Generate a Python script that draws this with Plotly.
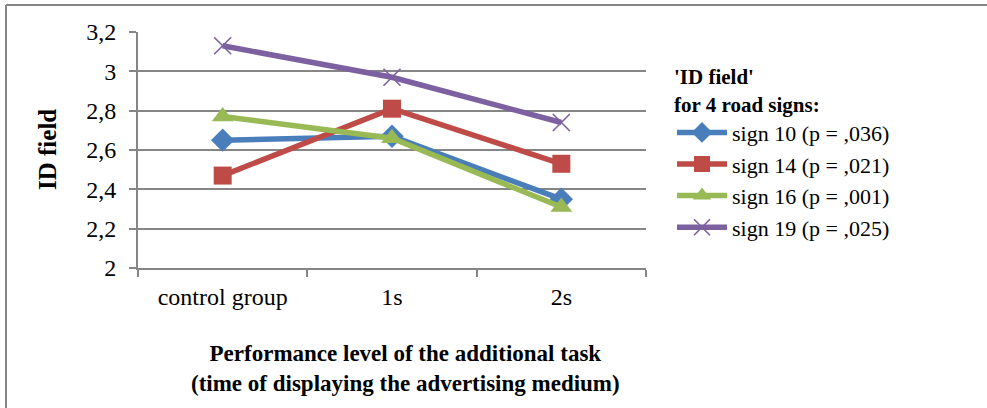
import plotly.graph_objects as go

# Mean 'ID field' scores per road sign across task performance levels
categories = ["control group", "1s", "2s"]
sign_10 = [2.65, 2.67, 2.35]
sign_14 = [2.47, 2.81, 2.53]
sign_16 = [2.77, 2.66, 2.31]
sign_19 = [3.13, 2.97, 2.74]
series_names = ["sign 10 (p = ,036)", "sign 14 (p = ,021)",
                "sign 16 (p = ,001)", "sign 19 (p = ,025)"]
y_ticks = [2.0, 2.2, 2.4, 2.6, 2.8, 3.0, 3.2]

W, H = 987, 408
L, R, T, B = 138, 646, 32, 268
FONT = "Liberation Serif"
GRID = "#868686"

styles = [
    dict(color="#4A7EBB", symbol="diamond", size=18, lw=0),
    dict(color="#BE4B48", symbol="square", size=18, lw=0),
    dict(color="#98B954", symbol="triangle-up", size=19, lw=0),
    dict(color="#7D60A0", symbol="x-thin", size=17, lw=1.6),
]

fig = go.Figure()
for name, vals, st in zip(series_names, [sign_10, sign_14, sign_16, sign_19], styles):
    fig.add_trace(go.Scatter(
        x=categories, y=vals, name=name, mode="lines+markers",
        line=dict(color=st["color"], width=5.5),
        marker=dict(symbol=st["symbol"], size=st["size"], color=st["color"],
                    line=dict(color=st["color"], width=st["lw"])),
    ))

fig.update_layout(
    width=W, height=H,
    margin=dict(l=L, r=W - R, t=T, b=H - B, pad=0),
    paper_bgcolor="white", plot_bgcolor="white",
    separators=", ",
    font=dict(family=FONT, size=24, color="black"),
    showlegend=True,
    legend=dict(
        xref="container", yref="container",
        x=672 / W, y=1 - 57 / H, xanchor="left", yanchor="top",
        title=dict(text="<b>'ID field'<br>for 4 road signs:</b>",
                   font=dict(family=FONT, size=21), side="top"),
        font=dict(family=FONT, size=22),
        tracegroupgap=0, itemwidth=50, maxheight=400,
        bgcolor="rgba(0,0,0,0)",
    ),
)

fig.update_xaxes(
    type="category", tickson="boundaries", ticks="outside", ticklen=7,
    tickwidth=2, tickcolor=GRID, showline=True, linecolor=GRID, linewidth=2,
    showgrid=False, range=[-0.5, 2.5], ticklabelstandoff=6,
    tickfont=dict(family=FONT, size=24),
)
fig.update_yaxes(
    range=[2, 3.2], tickvals=y_ticks, ticks="outside", ticklen=7, tickwidth=2,
    tickcolor=GRID, showline=True, linecolor=GRID, linewidth=2,
    showgrid=True, gridcolor=GRID, gridwidth=2, zeroline=False,
    ticklabelstandoff=8,
    tickfont=dict(family=FONT, size=24),
)

# Axis titles
fig.add_annotation(
    text="<b>ID field</b>", xref="paper", yref="paper", x=(47 - L) / (R - L), y=0.5,
    xanchor="center", textangle=-90, showarrow=False, font=dict(family=FONT, size=25),
)
fig.add_annotation(
    text="<b>Performance level of the additional task<br>(time of displaying the advertising medium)</b>",
    xref="paper", yref="paper", x=(405 - L) / (R - L), y=-(368 - B) / (B - T),
    yanchor="middle", showarrow=False, font=dict(family=FONT, size=23),
)

# Outer frame (top and left edges)
fig.add_shape(type="line", xref="paper", yref="paper",
              x0=-(L - 6) / (R - L), x1=(W - L) / (R - L),
              y0=1 + (T - 5) / (B - T), y1=1 + (T - 5) / (B - T),
              line=dict(color=GRID, width=2))
fig.add_shape(type="line", xref="paper", yref="paper",
              x0=-(L - 6) / (R - L), x1=-(L - 6) / (R - L),
              y0=1 + (T - 5) / (B - T), y1=-(H - B) / (B - T),
              line=dict(color=GRID, width=2))

fig.write_html("out.html")
